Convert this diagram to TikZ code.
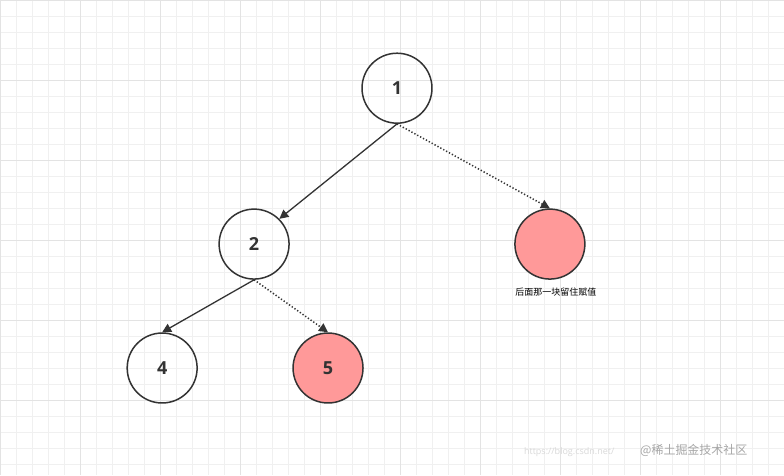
\documentclass[tikz,border=0pt]{standalone}
\usepackage{fontspec}
\setmainfont{Open Sans}
\newfontfamily\cjk{Noto Sans CJK SC}
\usetikzlibrary{arrows.meta}
\begin{document}
\begin{tikzpicture}[x=1pt,y=-1pt,
  nd/.style={circle,draw=black!80,line width=1.5pt,minimum size=70pt,inner sep=0pt,font=\bfseries\fontsize{18}{18}\selectfont,text=black!80},
  conn/.style={draw=black!80,line width=1.3pt,-{Triangle[length=9pt,width=9pt]}},
  dot/.style={conn,dotted,line width=1.5pt}]
\fill[white] (0,0) rectangle (784,475);
\foreach \x in {0,16,...,784} \draw[black!6,line width=0.5pt] (\x,0) -- (\x,475);
\foreach \y in {0,16,...,475} \draw[black!6,line width=0.5pt] (0,\y) -- (784,\y);
\foreach \x in {0,80,...,784} \draw[black!11,line width=0.5pt] (\x,0) -- (\x,475);
\foreach \y in {0,80,...,475} \draw[black!11,line width=0.5pt] (0,\y) -- (784,\y);
\useasboundingbox (0,0) rectangle (784,475);
\node[nd] (n1) at (397,88) {1};
\node[nd] (n2) at (254,244) {2};
\node[nd,fill={rgb,255:red,255;green,153;blue,153}] (n3) at (550,244) {};
\node[nd] (n4) at (162,368) {4};
\node[nd,fill={rgb,255:red,255;green,153;blue,153}] (n5) at (328,368) {5};
\node[font=\cjk\fontsize{9}{9}\selectfont] (lab) at (556,292) {后面那一块留住赋值};
\draw[conn] (n1.south) -- (n2.north east);
\draw[dot] (n1.south) -- (n3.north);
\draw[conn] (n2.south) -- (n4.north);
\draw[dot] (n2.south) -- (n5.north);
\node[font=\cjk\fontsize{12}{12}\selectfont,text=black!35] (wm) at (694,450) {@稀土掘金技术社区};
\node[font=\fontsize{9}{9}\selectfont,text=black!15,anchor=east] (url) at (618,452) {https://blog.csdn.net/};
\end{tikzpicture}
\end{document}
